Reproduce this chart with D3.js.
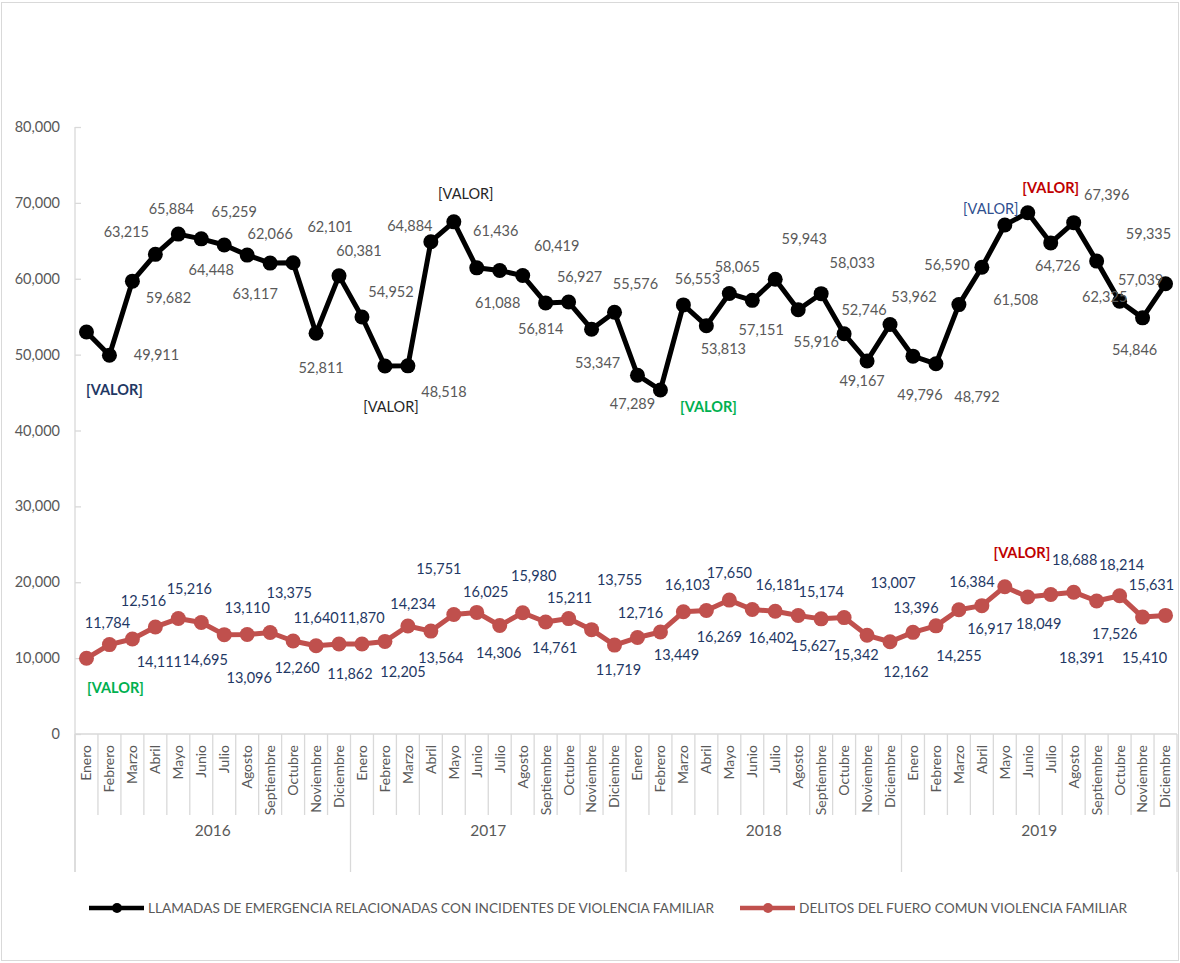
<!DOCTYPE html>
<html>
<head>
<meta charset="utf-8">
<script src="https://cdn.jsdelivr.net/npm/d3@7"></script>
<style>
  body { margin: 0; background: #fff; }
  svg { display: block; font-family: Lato, "Open Sans", sans-serif; }
</style>
</head>
<body>
<div id="chart"></div>
<script>
// data
const months = ["Enero", "Febrero", "Marzo", "Abril", "Mayo", "Junio", "Julio", "Agosto",
  "Septiembre", "Octubre", "Noviembre", "Diciembre"];
const years = ["2016", "2017", "2018", "2019"];
const yTicks = [0, 10000, 20000, 30000, 40000, 50000, 60000, 70000, 80000];

// LLAMADAS DE EMERGENCIA ... (black)
const llamadas = [
  52980, 49911, 59682, 63215, 65884, 65259, 64448, 63117, 62066, 62101, 52811, 60381,
  54952, 48500, 48518, 64884, 67500, 61436, 61088, 60419, 56814, 56927, 53347, 55576,
  47289, 45340, 56553, 53813, 58065, 57151, 59943, 55916, 58033, 52746, 49167, 53962,
  49796, 48792, 56590, 61508, 67080, 68700, 64726, 67396, 62325, 57039, 54846, 59335
];
// DELITOS DEL FUERO COMUN ... (red)
const delitos = [
  9980, 11784, 12516, 14111, 15216, 14695, 13096, 13110, 13375, 12260, 11640, 11862,
  11870, 12205, 14234, 13564, 15751, 16025, 14306, 15980, 14761, 15211, 13755, 11719,
  12716, 13449, 16103, 16269, 17650, 16402, 16181, 15627, 15174, 15342, 13007, 12162,
  13396, 14255, 16384, 16917, 19415, 18049, 18391, 18688, 17526, 18214, 15410, 15631
];

const seriesNames = [
  "LLAMADAS DE EMERGENCIA RELACIONADAS CON INCIDENTES DE VIOLENCIA FAMILIAR",
  "DELITOS DEL FUERO COMUN VIOLENCIA FAMILIAR"
];

// the labels excel could not resolve show "[VALOR]"
const llamadasValor = { 0: "navyBold", 13: "dark", 16: "dark", 25: "greenBold", 40: "navy", 41: "redBold" };
const delitosValor = { 0: "greenBold", 40: "redBold" };
const valorStyles = {
  navyBold: { fill: "#1f3864", weight: "bold" },
  navy: { fill: "#2f4f8f", weight: "normal" },
  dark: { fill: "#262626", weight: "normal" },
  greenBold: { fill: "#00b050", weight: "bold" },
  redBold: { fill: "#c00000", weight: "bold" }
};

// hand placed label offsets [dx, dy], like the excel ones
const llamadasOffsets = [
  [28, 58], [47, 0], [36, 17], [-29, -22], [-7, -25], [33, -27], [-13, 25], [8, 39], [0, -29], [37, -36], [5, 35], [20, -25],
  [29, -25], [6, 41], [36, 26], [-21, -16], [12, -28], [19, -37], [-2, 32], [34, -30], [-5, 26], [11, -25], [6, 34], [21, -28],
  [-5, 29], [48, 17], [14, -26], [17, 23], [8, -27], [9, 30], [29, -40], [18, 32], [31, -31], [20, -24], [-5, 20], [24, -28],
  [7, 39], [41, 33], [-12, -40], [34, 33], [-14, -16], [23, -25], [7, 23], [33, -28], [8, 36], [21, -21], [-8, 32], [-17, -50]
];
const delitosOffsets = [
  [29, 30], [-2, -22], [11, -38], [4, 35], [11, -30], [4, 37], [25, 43], [0, -27], [19, -40], [4, 27], [0, -28], [11, 30],
  [0, -26], [18, 31], [5, -22], [10, 27], [-15, -46], [9, -20], [-1, 27], [11, -37], [9, 26], [1, -21], [28, -50], [4, 25],
  [3, -25], [16, 23], [4, -27], [13, 26], [0, -27], [19, 28], [3, -26], [15, 30], [0, -27], [12, 37], [26, -52], [16, 30],
  [3, -24], [23, 30], [13, -28], [8, 23], [17, -34], [11, 27], [31, 63], [1, -32], [18, 33], [2, -31], [2, 41], [-14, -30]
];

const width = 1180, height = 963;
const margin = { top: 127, right: 3, bottom: 229, left: 75 };
const gridColor = "#d9d9d9";
const textColor = "#595959";

const svg = d3.select("#chart").append("svg")
  .attr("width", width)
  .attr("height", height);

// chart border
svg.append("rect")
  .attr("x", 1.5).attr("y", 2.5)
  .attr("width", 1177).attr("height", 958)
  .attr("fill", "#fff")
  .attr("stroke", gridColor);

const cats = d3.range(llamadas.length);
const x = d3.scaleBand()
  .domain(cats)
  .range([margin.left, width - margin.right])
  .padding(0);
const cx = i => x(i) + x.bandwidth() / 2;

const y = d3.scaleLinear()
  .domain([0, 80000])
  .range([height - margin.bottom, margin.top]);

const fmt = d3.format(",");

// y axis (ticks point inside, like the original)
const yAxis = g => g
  .attr("transform", `translate(${margin.left},0)`)
  .call(d3.axisRight(y).tickValues(yTicks).tickSize(6).tickFormat(""))
  .call(g => g.select(".domain").remove())
  .call(g => g.selectAll(".tick line").attr("stroke", gridColor).attr("stroke-width", 1.3));

svg.append("g").call(yAxis);

svg.append("line")
  .attr("x1", margin.left).attr("x2", margin.left)
  .attr("y1", y(80000)).attr("y2", 872)
  .attr("stroke", gridColor).attr("stroke-width", 1.3);

svg.append("g")
  .selectAll("text")
  .data(yTicks)
  .join("text")
  .attr("x", 60)
  .attr("y", d => y(d))
  .attr("dy", "0.35em")
  .attr("text-anchor", "end")
  .attr("fill", textColor)
  .attr("font-size", 14.5)
  .text(d => fmt(d));

// x axis line + category ticks
svg.append("line")
  .attr("x1", margin.left).attr("x2", width - margin.right)
  .attr("y1", y(0)).attr("y2", y(0))
  .attr("stroke", gridColor).attr("stroke-width", 1.5);

const boundaries = d3.range(llamadas.length + 1);
svg.append("g")
  .selectAll("line")
  .data(boundaries)
  .join("line")
  .attr("x1", i => margin.left + i * x.bandwidth())
  .attr("x2", i => margin.left + i * x.bandwidth())
  .attr("y1", y(0))
  .attr("y2", i => i % 12 === 0 ? 872 : 815)
  .attr("stroke", gridColor)
  .attr("stroke-width", 1.3);

// month labels, rotated
svg.append("g")
  .selectAll("text")
  .data(cats)
  .join("text")
  .attr("transform", i => `translate(${cx(i)},745) rotate(-90)`)
  .attr("dy", "0.35em")
  .attr("text-anchor", "end")
  .attr("fill", textColor)
  .attr("font-size", 14)
  .text(i => months[i % 12]);

// year labels
svg.append("g")
  .selectAll("text")
  .data(years)
  .join("text")
  .attr("x", (d, k) => margin.left + (k * 12 + 6) * x.bandwidth())
  .attr("y", 831)
  .attr("dy", "0.35em")
  .attr("text-anchor", "middle")
  .attr("fill", textColor)
  .attr("font-size", 15.5)
  .text(d => d);

// draw one series with its labels
const drawSeries = (values, color, offsets, valor, labelColor) => {
  const line = d3.line()
    .x((d, i) => cx(i))
    .y(d => y(d));

  svg.append("path")
    .datum(values)
    .attr("fill", "none")
    .attr("stroke", color)
    .attr("stroke-width", 5)
    .attr("stroke-linejoin", "round")
    .attr("d", line);

  svg.append("g")
    .selectAll("circle")
    .data(values)
    .join("circle")
    .attr("cx", (d, i) => cx(i))
    .attr("cy", d => y(d))
    .attr("r", 7.5)
    .attr("fill", color);

  svg.append("g")
    .selectAll("text")
    .data(values)
    .join("text")
    .attr("x", (d, i) => cx(i) + offsets[i][0])
    .attr("y", (d, i) => y(d) + offsets[i][1])
    .attr("dy", "0.35em")
    .attr("text-anchor", "middle")
    .attr("font-size", 14.5)
    .attr("fill", (d, i) => valor[i] ? valorStyles[valor[i]].fill : labelColor)
    .attr("font-weight", (d, i) => valor[i] ? valorStyles[valor[i]].weight : "normal")
    .text((d, i) => valor[i] ? "[VALOR]" : fmt(d));
};

drawSeries(delitos, "#c0504d", delitosOffsets, delitosValor, "#1f3864");
drawSeries(llamadas, "#000000", llamadasOffsets, llamadasValor, textColor);

// legend
const legend = [
  { name: seriesNames[0], color: "#000000", x: 89, textLen: 566 },
  { name: seriesNames[1], color: "#c0504d", x: 740, textLen: 328 }
];
const lg = svg.append("g").selectAll("g")
  .data(legend)
  .join("g")
  .attr("transform", d => `translate(${d.x},908)`);
lg.append("line")
  .attr("x1", 0).attr("x2", 55)
  .attr("stroke", d => d.color)
  .attr("stroke-width", 4.5);
lg.append("circle")
  .attr("cx", 28).attr("r", 5)
  .attr("fill", d => d.color);
lg.append("text")
  .attr("x", 59)
  .attr("dy", "0.35em")
  .attr("font-size", 14)
  .attr("fill", textColor)
  .attr("textLength", d => d.textLen)
  .attr("lengthAdjust", "spacingAndGlyphs")
  .text(d => d.name);
</script>
</body>
</html>
